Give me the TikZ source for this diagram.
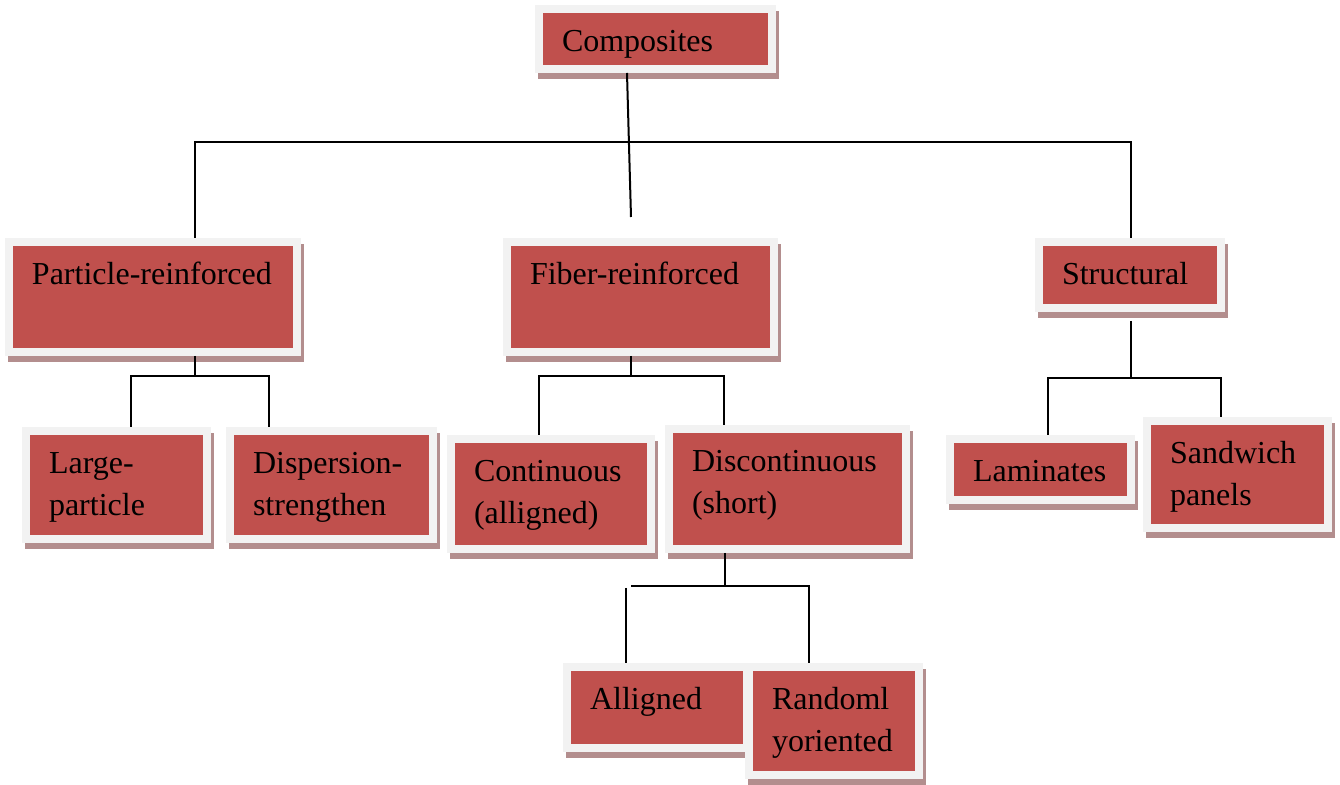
\documentclass[tikz,border=0pt]{standalone}
\usepackage{fontspec}
\setmainfont{Liberation Serif}
\usetikzlibrary{shadows}
\definecolor{boxred}{HTML}{C0504D}
\definecolor{frm}{HTML}{F2F2F2}
\definecolor{shd}{HTML}{B38E8E}
\tikzset{
  box/.style={anchor=north west, fill=frm, inner xsep=13.5pt, inner ysep=0pt, outer sep=0pt,
    text height=23.25pt, align=left, font=\fontsize{16pt}{21pt}\selectfont,
    drop shadow={shadow xshift=1.5pt, shadow yshift=-3pt, fill=shd, opacity=1},
    path picture={\fill[boxred] ([shift={(4pt,-4pt)}]path picture bounding box.north west)
      rectangle ([shift={(-4pt,4pt)}]path picture bounding box.south east);}},
  link/.style={line width=1pt, black},
}
\begin{document}
\begin{tikzpicture}[x=0.5pt,y=-0.5pt]
\useasboundingbox (0,0) rectangle (1340,785);

% ============ boxes ============
\node[box, text width=93.5pt, text depth=10.75pt] (comp)   at (535,5)   {Composites};
\node[box, text width=121pt,  text depth=35.75pt] (part)   at (5,238)   {Particle-reinforced};
\node[box, text width=110.5pt,text depth=35.75pt] (fiber)  at (503,238) {Fiber-reinforced};
\node[box, text width=68pt,   text depth=13.75pt] (struct) at (1035,238) {Structural};
\node[box, text width=67.5pt, text depth=34.75pt] (large)  at (22,427)  {Large-\\particle};
\node[box, text width=78.5pt, text depth=34.75pt] (disp)   at (226,427) {Dispersion-\\strengthen};
\node[box, text width=77pt,   text depth=35.75pt] (cont)   at (447,435) {Continuous\\(alligned)};
\node[box, text width=95.5pt, text depth=40.75pt] (disc)   at (665,425) {Discontinuous\\(short)};
\node[box, text width=67.5pt, text depth=11.25pt] (lam)    at (946,435) {Laminates};
\node[box, text width=67.5pt, text depth=34.25pt] (sand)   at (1143,417) {Sandwich\\panels};
\node[box, text width=67pt,   text depth=21.25pt] (alig)   at (563,663) {Alligned};
\node[box, text width=62pt,   text depth=34.75pt] (rand)   at (745,663) {Randoml\\yoriented};

% ============ junction points ============
\coordinate (trunk) at (631,217);
\coordinate (busL)  at (195,142);
\coordinate (busR)  at (1131,142);
\coordinate (pj)  at (195,376);
\coordinate (pjL) at (131,376);
\coordinate (pjR) at (269,376);
\coordinate (fj)  at (631,376);
\coordinate (fjL) at (539,376);
\coordinate (fjR) at (724,376);
\coordinate (sj)  at (1131,378);
\coordinate (sjL) at (1048,378);
\coordinate (sjR) at (1221,378);
\coordinate (dj)  at (725,586);
\coordinate (djL) at (631,586);
\coordinate (djA) at (626,588);
\coordinate (djR) at (809,586);

% ============ connectors ============
\draw[link] ([xshift=46pt]comp.south west) -- (trunk);
\draw[link] (busL |- part.north) -- (busL) -- (busR) -- (busR |- struct.north);
\draw[link] (pj |- part.south) -- (pj);
\draw[link] (pjL |- large.north) -- (pjL) -- (pjR) -- (pjR |- disp.north);
\draw[link] (fj |- fiber.south) -- (fj);
\draw[link] (fjL |- cont.north) -- (fjL) -- (fjR) -- (fjR |- disc.north);
\draw[link] ([yshift=-4.5pt]sj |- struct.south) -- (sj);
\draw[link] (sjL |- lam.north) -- (sjL) -- (sjR) -- (sjR |- sand.north);
\draw[link] (dj |- disc.south) -- (dj);
\draw[link] (djL) -- (djR) -- (djR |- rand.north);
\draw[link] (djA) -- (djA |- alig.north);

\end{tikzpicture}
\end{document}
